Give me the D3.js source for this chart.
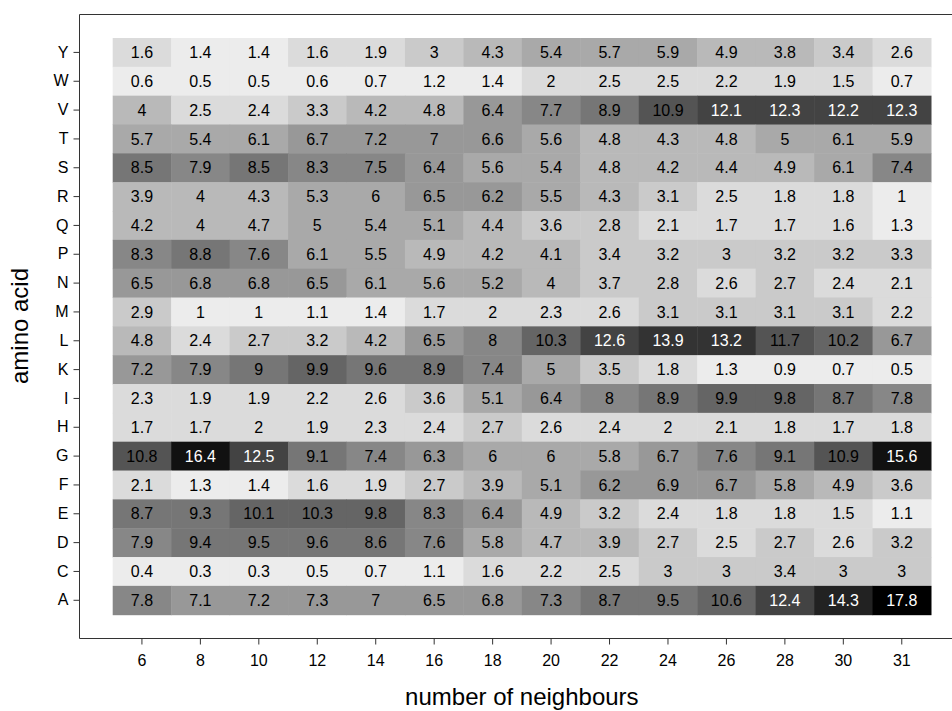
<!DOCTYPE html>
<html>
<head>
<meta charset="utf-8">
<script src="https://cdn.jsdelivr.net/npm/d3@7"></script>
<style>
  body { margin: 0; background: #fff; }
  svg { display: block; font-family: "Liberation Sans", Arial, sans-serif; }
</style>
</head>
<body>
<div class="chart"></div>
<script>
'use strict';

// columns (number of neighbours) and rows (amino acid), top row first
var neighbours = ['6', '8', '10', '12', '14', '16', '18', '20', '22', '24', '26', '28', '30', '31'];
var aminoAcids = ['Y', 'W', 'V', 'T', 'S', 'R', 'Q', 'P', 'N', 'M', 'L', 'K', 'I', 'H', 'G', 'F', 'E', 'D', 'C', 'A'];

var valY = [1.6, 1.4, 1.4, 1.6, 1.9, 3, 4.3, 5.4, 5.7, 5.9, 4.9, 3.8, 3.4, 2.6];
var valW = [0.6, 0.5, 0.5, 0.6, 0.7, 1.2, 1.4, 2, 2.5, 2.5, 2.2, 1.9, 1.5, 0.7];
var valV = [4, 2.5, 2.4, 3.3, 4.2, 4.8, 6.4, 7.7, 8.9, 10.9, 12.1, 12.3, 12.2, 12.3];
var valT = [5.7, 5.4, 6.1, 6.7, 7.2, 7, 6.6, 5.6, 4.8, 4.3, 4.8, 5, 6.1, 5.9];
var valS = [8.5, 7.9, 8.5, 8.3, 7.5, 6.4, 5.6, 5.4, 4.8, 4.2, 4.4, 4.9, 6.1, 7.4];
var valR = [3.9, 4, 4.3, 5.3, 6, 6.5, 6.2, 5.5, 4.3, 3.1, 2.5, 1.8, 1.8, 1];
var valQ = [4.2, 4, 4.7, 5, 5.4, 5.1, 4.4, 3.6, 2.8, 2.1, 1.7, 1.7, 1.6, 1.3];
var valP = [8.3, 8.8, 7.6, 6.1, 5.5, 4.9, 4.2, 4.1, 3.4, 3.2, 3, 3.2, 3.2, 3.3];
var valN = [6.5, 6.8, 6.8, 6.5, 6.1, 5.6, 5.2, 4, 3.7, 2.8, 2.6, 2.7, 2.4, 2.1];
var valM = [2.9, 1, 1, 1.1, 1.4, 1.7, 2, 2.3, 2.6, 3.1, 3.1, 3.1, 3.1, 2.2];
var valL = [4.8, 2.4, 2.7, 3.2, 4.2, 6.5, 8, 10.3, 12.6, 13.9, 13.2, 11.7, 10.2, 6.7];
var valK = [7.2, 7.9, 9, 9.9, 9.6, 8.9, 7.4, 5, 3.5, 1.8, 1.3, 0.9, 0.7, 0.5];
var valI = [2.3, 1.9, 1.9, 2.2, 2.6, 3.6, 5.1, 6.4, 8, 8.9, 9.9, 9.8, 8.7, 7.8];
var valH = [1.7, 1.7, 2, 1.9, 2.3, 2.4, 2.7, 2.6, 2.4, 2, 2.1, 1.8, 1.7, 1.8];
var valG = [10.8, 16.4, 12.5, 9.1, 7.4, 6.3, 6, 6, 5.8, 6.7, 7.6, 9.1, 10.9, 15.6];
var valF = [2.1, 1.3, 1.4, 1.6, 1.9, 2.7, 3.9, 5.1, 6.2, 6.9, 6.7, 5.8, 4.9, 3.6];
var valE = [8.7, 9.3, 10.1, 10.3, 9.8, 8.3, 6.4, 4.9, 3.2, 2.4, 1.8, 1.8, 1.5, 1.1];
var valD = [7.9, 9.4, 9.5, 9.6, 8.6, 7.6, 5.8, 4.7, 3.9, 2.7, 2.5, 2.7, 2.6, 3.2];
var valC = [0.4, 0.3, 0.3, 0.5, 0.7, 1.1, 1.6, 2.2, 2.5, 3, 3, 3.4, 3, 3];
var valA = [7.8, 7.1, 7.2, 7.28, 7, 6.5, 6.8, 7.3, 8.7, 9.5, 10.6, 12.4, 14.3, 17.8];

var rowValues = {
  Y: valY, W: valW, V: valV, T: valT, S: valS, R: valR, Q: valQ, P: valP, N: valN, M: valM,
  L: valL, K: valK, I: valI, H: valH, G: valG, F: valF, E: valE, D: valD, C: valC, A: valA
};

var cells = [];
aminoAcids.forEach(function(aa) {
  rowValues[aa].forEach(function(v, i) {
    cells.push({row: aa, col: neighbours[i], value: v});
  });
});

var width = 952, height = 711;
var frame = {left: 79.5, top: 14.5, bottom: 638.5};

var svg = d3.select('.chart').append('svg')
  .attr('width', width)
  .attr('height', height);

var x = d3.scaleBand()
  .domain(neighbours)
  .range([112.7, 931]);

var y = d3.scaleBand()
  .domain(aminoAcids)
  .range([38, 614.7]);

// 15 equal-width grey bins from min to max
var vMin = d3.min(cells, function(d) { return d.value; });
var vMax = d3.max(cells, function(d) { return d.value; });
var nBins = 15;
var breaks = d3.range(1, nBins).map(function(i) {
  return vMin + i * (vMax - vMin) / nBins - 1e-6;
});
var greys = d3.range(nBins).map(function(i) {
  var g = Math.round(236 - i * 236 / (nBins - 1));
  return d3.rgb(g, g, g).formatHex();
});
var color = d3.scaleThreshold().domain(breaks).range(greys);
var binOf = d3.scaleThreshold().domain(breaks).range(d3.range(nBins));

svg.selectAll('.cell')
  .data(cells)
  .enter().append('rect')
  .attr('class', 'cell')
  .attr('x', function(d) { return x(d.col); })
  .attr('y', function(d) { return y(d.row); })
  .attr('width', x.bandwidth() + 0.5)
  .attr('height', y.bandwidth() + 0.5)
  .attr('fill', function(d) { return color(d.value); });

svg.selectAll('.label')
  .data(cells)
  .enter().append('text')
  .attr('class', 'label')
  .attr('x', function(d) { return x(d.col) + x.bandwidth() / 2; })
  .attr('y', function(d) { return y(d.row) + y.bandwidth() / 2; })
  .attr('dy', '0.35em')
  .attr('text-anchor', 'middle')
  .attr('font-size', 16)
  .attr('fill', function(d) { return binOf(d.value) >= 10 ? '#fff' : '#000'; })
  .text(function(d) { return String(+d.value.toFixed(1)); });

// frame: left, top and bottom only
svg.append('path')
  .attr('d', 'M' + width + ',' + frame.top + 'H' + frame.left + 'V' + frame.bottom + 'H' + width)
  .attr('fill', 'none')
  .attr('stroke', '#333')
  .attr('stroke-width', 1);

var xAxis = svg.append('g')
  .attr('transform', 'translate(0,' + frame.bottom + ')')
  .call(d3.axisBottom(x).tickSize(6).tickPadding(10))
  .attr('font-family', null)
  .attr('font-size', 16);
xAxis.select('.domain').remove();
xAxis.selectAll('text').attr('fill', '#000');
xAxis.selectAll('line').attr('stroke', '#333');

var yAxis = svg.append('g')
  .attr('transform', 'translate(' + frame.left + ',0)')
  .call(d3.axisLeft(y).tickSize(6).tickPadding(5))
  .attr('font-family', null)
  .attr('font-size', 16);
yAxis.select('.domain').remove();
yAxis.selectAll('text').attr('fill', '#000');
yAxis.selectAll('line').attr('stroke', '#333');

svg.append('text')
  .attr('x', (112.7 + 931) / 2)
  .attr('y', 705)
  .attr('text-anchor', 'middle')
  .attr('font-size', 24)
  .text('number of neighbours');

svg.append('text')
  .attr('transform', 'translate(28,326) rotate(-90)')
  .attr('text-anchor', 'middle')
  .attr('font-size', 24)
  .text('amino acid');
</script>
</body>
</html>
